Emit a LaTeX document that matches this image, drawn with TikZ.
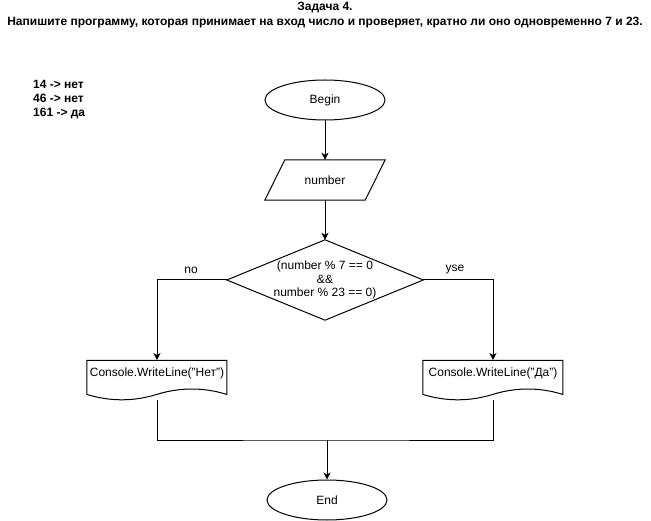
\documentclass[tikz,border=0pt]{standalone}
\usepackage{fontspec}
\setmainfont{Liberation Sans}
\usetikzlibrary{arrows.meta,shapes.geometric,calc}
\tikzset{
  every node/.style={font=\fontsize{12}{14}\selectfont, inner sep=0pt},
  boldtext/.style={font=\fontsize{12}{14}\selectfont\bfseries},
  term/.style={ellipse, draw, line width=1pt, minimum width=120pt, minimum height=40pt},
  box/.style={rectangle, minimum width=#1, minimum height=40pt, align=center},
  shapeline/.style={draw, line width=1pt, line join=miter},
  conn/.style={line width=1pt},
  arr/.style={conn, -{Stealth[length=7pt,width=7pt,inset=2pt]}},
}
\begin{document}
\begin{tikzpicture}[x=1pt,y=-1pt]
\useasboundingbox (0,0) rectangle (651,521);
% title
\node[boldtext] (t1) at (325,8) {Задача 4.};
\node[boldtext] (t2) at (325,23) {Напишите программу, которая принимает на вход число и проверяет, кратно ли оно одновременно 7 и 23.};
% legend
\node[boldtext, anchor=west, align=left] (leg) at (33,100) {14 -> нет\\46 -> нет\\161 -> да};
% nodes
\node[term] (begin) at (325,100) {Begin};
\node[box=120pt] (num) at (325,180) {number};
\draw[shapeline] ($(num.north west)+(20pt,0pt)$) -- (num.north east) -- ($(num.south east)+(-20pt,0pt)$) -- (num.south west) -- cycle;
\node[box=196pt, minimum height=80pt, align=center, font=\fontsize{12}{13.5}\selectfont] (dia) at (325,280) {(number \% 7 == 0\\\&\&\\number \% 23 == 0)};
\draw[shapeline] (dia.north) -- (dia.east) -- (dia.south) -- (dia.west) -- cycle;
\node[box=140pt, anchor=north, minimum height=40pt] (docL) at (157,360) {};
\node[anchor=center] (txL) at (157,373) {Console.WriteLine("Нет")};
\node[box=140pt, anchor=north, minimum height=40pt] (docR) at (493,360) {};
\node[anchor=center] (txR) at (493,373) {Console.WriteLine("Да")};
\foreach \d in {docL,docR}{
  \draw[shapeline, shift={(\d.south west)}] (140,-6) .. controls (116.67,-13.2) and (93.33,-13.2) .. (70,-6)
     .. controls (46.67,1.2) and (23.33,1.2) .. (0,-6) -- (0,-40) -- (140,-40) -- cycle;
}
\node[term] (end) at (327,500) {End};
% labels
\node (no) at (191,270) {no};
\node (yes) at (455,270) {yse};
% connectors
\draw[arr] (begin.south) -- (num.north);
\draw[arr] (num.south) -- (dia.north);
\draw[arr] (dia.west) -| (docL.north);
\draw[arr] (dia.east) -| (docR.north);
\coordinate (jn) at (327,440);
\draw[conn] (docL.south) |- (jn) -| (docR.south);
\draw[arr] (jn) -- (end.north);
\end{tikzpicture}
\end{document}
